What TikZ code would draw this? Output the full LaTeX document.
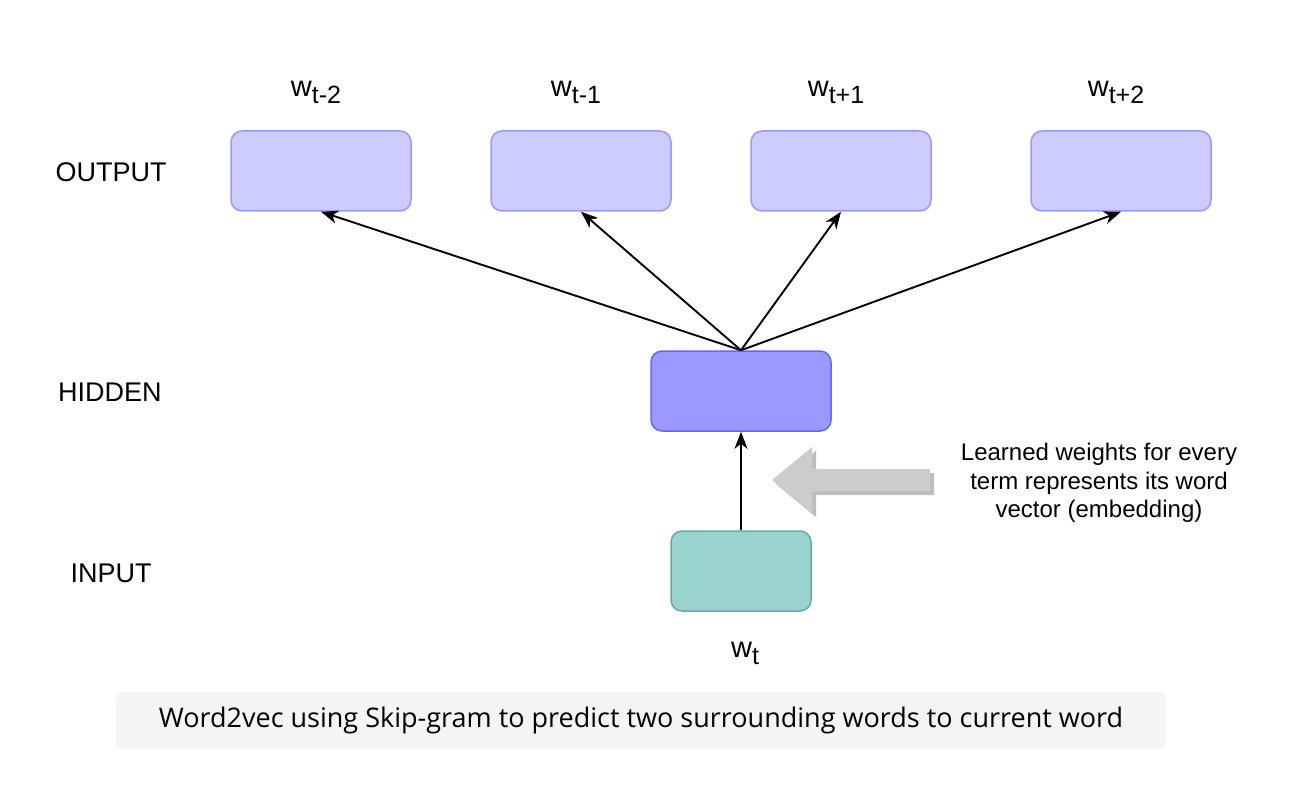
\documentclass[tikz,border=0pt]{standalone}
\usepackage{fontspec}
\setmainfont{Liberation Sans}
\newfontfamily\capfont{Open Sans}
\usetikzlibrary{arrows.meta}
\definecolor{outfill}{HTML}{CCCCFF}
\definecolor{outdraw}{HTML}{9999FF}
\definecolor{hidfill}{HTML}{9999FF}
\definecolor{hiddraw}{HTML}{6666FF}
\definecolor{infill}{HTML}{9AD3CD}
\definecolor{indraw}{HTML}{67AB9F}
\definecolor{capfill}{HTML}{F5F5F5}
\definecolor{blockfill}{HTML}{CCCCCC}
\definecolor{blockshadow}{HTML}{BDBDBD}
\begin{document}
\begin{tikzpicture}[x=1pt,y=-1pt,
  box/.style={rectangle,rounded corners=11pt,line width=1.5pt,minimum height=80pt,inner sep=0pt},
  outbox/.style={box,fill=outfill,draw=outdraw,minimum width=180pt},
  hidbox/.style={box,fill=hidfill,draw=hiddraw,minimum width=180pt},
  inbox/.style={box,fill=infill,draw=indraw,minimum width=140pt},
  layerlabel/.style={font=\fontsize{27}{32}\selectfont,anchor=base,inner sep=0pt},
  wlabel/.style={font=\fontsize{29}{32}\selectfont,anchor=base,inner sep=0pt},
  conn/.style={line width=1.9pt,-{Stealth[length=17pt,width=13pt,inset=5pt]}},
  note/.style={font=\fontsize{24}{28.5}\selectfont,align=center,inner sep=0pt}
]
\useasboundingbox (0,0) rectangle (1314,794);
\newcommand{\wsub}[1]{w\raisebox{-7pt}{\fontsize{25}{28}\selectfont #1}}
% output boxes
\node[outbox] (o1) at (321,171) {};
\node[outbox] (o2) at (581,171) {};
\node[outbox] (o3) at (841,171) {};
\node[outbox] (o4) at (1121,171) {};
\node[hidbox] (h) at (741,391) {};
\node[inbox] (i) at (741,571) {};
% word labels
\node[wlabel] (l1) at (316,97) {\wsub{t-2}};
\node[wlabel] (l2) at (576,97) {\wsub{t-1}};
\node[wlabel] (l3) at (836,97) {\wsub{t+1}};
\node[wlabel] (l4) at (1116,97) {\wsub{t+2}};
\node[wlabel] (lt) at (745,657) {\wsub{t}};
% layer labels
\node[layerlabel] (lo) at (111,182) {OUTPUT};
\node[layerlabel] (lh) at (110,401) {HIDDEN};
\node[layerlabel] (li) at (111,582) {INPUT};
% connectors
\draw[conn] (h.north) -- (o1.south);
\draw[conn] (h.north) -- (o2.south);
\draw[conn] (h.north) -- (o3.south);
\draw[conn] (h.north) -- (o4.south);
\draw[conn] (i.north) -- (h.south);
% block arrow with shadow
\fill[blockshadow] (776,484) -- (816,451) -- (816,473) -- (934,473) -- (934,495) -- (816,495) -- (816,517) -- cycle;
\fill[blockfill] (772,480) -- (812,447) -- (812,469) -- (930,469) -- (930,491) -- (812,491) -- (812,513) -- cycle;
% note
\node[note] (n) at (1099,483) {Learned weights for every\\term represents its word\\vector (embedding)};
% caption
\node[rectangle,rounded corners=6pt,fill=capfill,minimum width=1050pt,minimum height=57pt] (cap) at (641,720.5) {};
\node[font=\capfont\fontsize{27}{32}\selectfont,inner sep=0pt] (capt) at (641,720) {Word2vec using Skip-gram to predict two surrounding words to current word};
\end{tikzpicture}
\end{document}
